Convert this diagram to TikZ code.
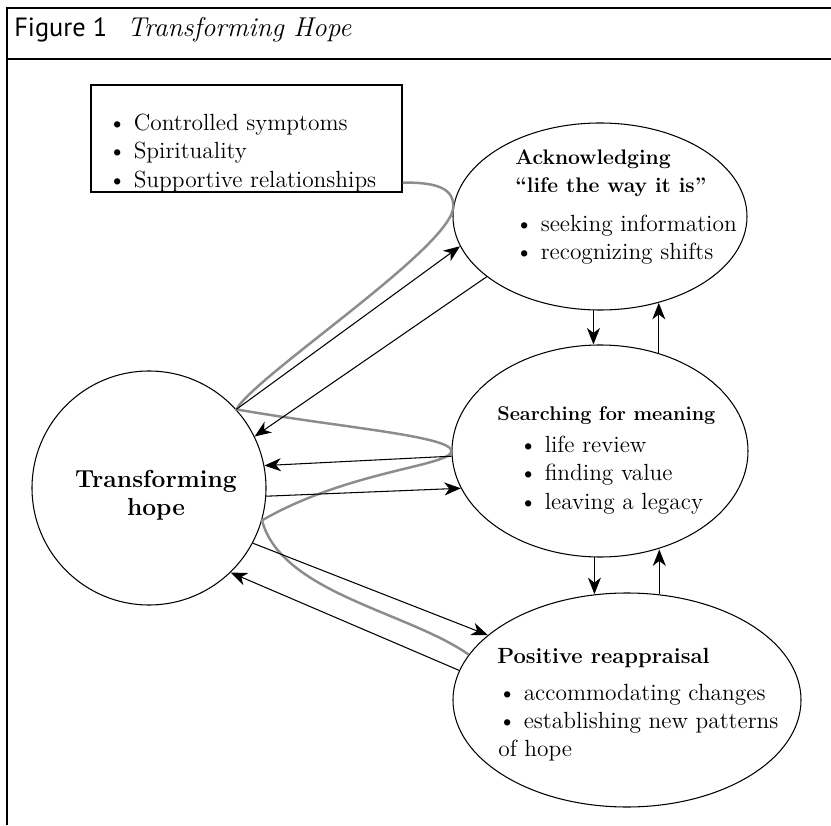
\documentclass[tikz,border=0pt]{standalone}
\usepackage{fontspec}
\newfontfamily\figsans{PT Sans}
\usetikzlibrary{shapes.geometric,arrows.meta}

\begin{document}
\begin{tikzpicture}[
    txt/.style={inner sep=0pt, align=left, font=\fontsize{13.3}{16}\selectfont},
    titre/.style={inner sep=0pt, align=left, font=\fontsize{12}{16}\selectfont\bfseries},
    bulle/.style={draw, ellipse, line width=0.6pt, inner sep=0pt},
    fleche/.style={-{Stealth[length=3.3mm,width=2.6mm,inset=1mm]}, line width=0.6pt},
    gris/.style={draw=black!45, line width=1.4pt}]
    \useasboundingbox (0,0) rectangle (16.62,16.5);

    % cadre et titre
    \draw[line width=1.1pt] (0.14,0) -- (0.14,16.34) -- (16.62,16.34);
    \draw[line width=1.1pt] (0.14,15.32) -- (16.62,15.32);
    \node[anchor=base west, inner sep=0pt] (0) at (0.28,15.76) {{\figsans\fontsize{15}{16}\selectfont Figure 1}\hspace{0.4cm}{\fontsize{15.5}{16}\selectfont\itshape Transforming Hope}};

    % noeuds
    \node[draw, circle, line width=0.6pt, minimum size=4.68cm] (1) at (2.98,6.74) {};
    \node[inner sep=0pt, align=center, font=\fontsize{14}{16}\selectfont\bfseries] (1t) at (3.12,6.60) {Transforming\\hope};

    \node[bulle, minimum width=5.88cm, minimum height=3.74cm] (2) at (12.0,12.17) {};
    \node[titre, anchor=north west] (2t) at (10.30,13.51) {Acknowledging\\``life the way it is''\\[6pt]
        \fontsize{13.3}{16}\selectfont\mdseries\textbullet\ seeking information\\
        \fontsize{13.3}{16}\selectfont\mdseries\textbullet\ recognizing shifts};

    \node[bulle, minimum width=5.92cm, minimum height=4.24cm] (3) at (12.0,7.48) {};
    \node[titre, anchor=base west, font=\fontsize{11.3}{16}\selectfont\bfseries] (3a) at (9.94,8.08) {Searching for meaning};
    \node[txt, anchor=north west] (3b) at (10.38,7.78) {\textbullet\ life review\\\textbullet\ finding value\\\textbullet\ leaving a legacy};

    \node[bulle, minimum width=6.96cm, minimum height=4.28cm] (4) at (12.54,2.5) {};
    \node[titre, anchor=base west, font=\fontsize{12.5}{16}\selectfont\bfseries] (4a) at (9.94,3.24) {Positive reappraisal};
    \node[txt, anchor=north west] (4b) at (9.96,2.82) {\textbullet\ accommodating changes\\\textbullet\ establishing new patterns\\of hope};

    \node[draw, line width=0.6pt, minimum width=6.22cm, minimum height=2.14cm] (5) at (4.93,13.73) {};
    \node[txt, anchor=north west] (5t) at (2.16,14.22) {\textbullet\ Controlled symptoms\\\textbullet\ Spirituality\\\textbullet\ Supportive relationships};

    % ligne grise
    \draw[gris] ([yshift=0.2cm]5.south east) to[out=0, in=90, out distance=0.6cm, in distance=0.4cm] (2.176)
        to[out=-90, in=60, out distance=0.8cm, in distance=0.8cm] (1.42)
        to[out=-10, in=90, out distance=2cm, in distance=0.3cm] (3.180)
        to[out=-90, in=30, out distance=0.3cm, in distance=2cm] (1.-16)
        to[out=-75, in=145, out distance=1.5cm, in distance=1.5cm] (4.164);

    % fleches
    \draw[fleche] (1.42) -- (2.192);
    \draw[fleche] (2.208) -- (1.26);
    \draw[fleche] (3.182) -- (1.11);
    \draw[fleche] (1.-4) -- (3.195);
    \draw[fleche] (1.-28) -- (4.155);
    \draw[fleche] (4.170) -- (1.-46);

    \draw[fleche] (2.266.9) -- (2.266.9 |- 3.north);
    \draw[fleche] (3.59.25) -- (3.59.25 |- 2.304);
    \draw[fleche] (3.267.3) -- (3.267.3 |- 4.106.9);
    \draw[fleche] (4.73.6) -- (4.73.6 |- 3.300.75);

\end{tikzpicture}
\end{document}
